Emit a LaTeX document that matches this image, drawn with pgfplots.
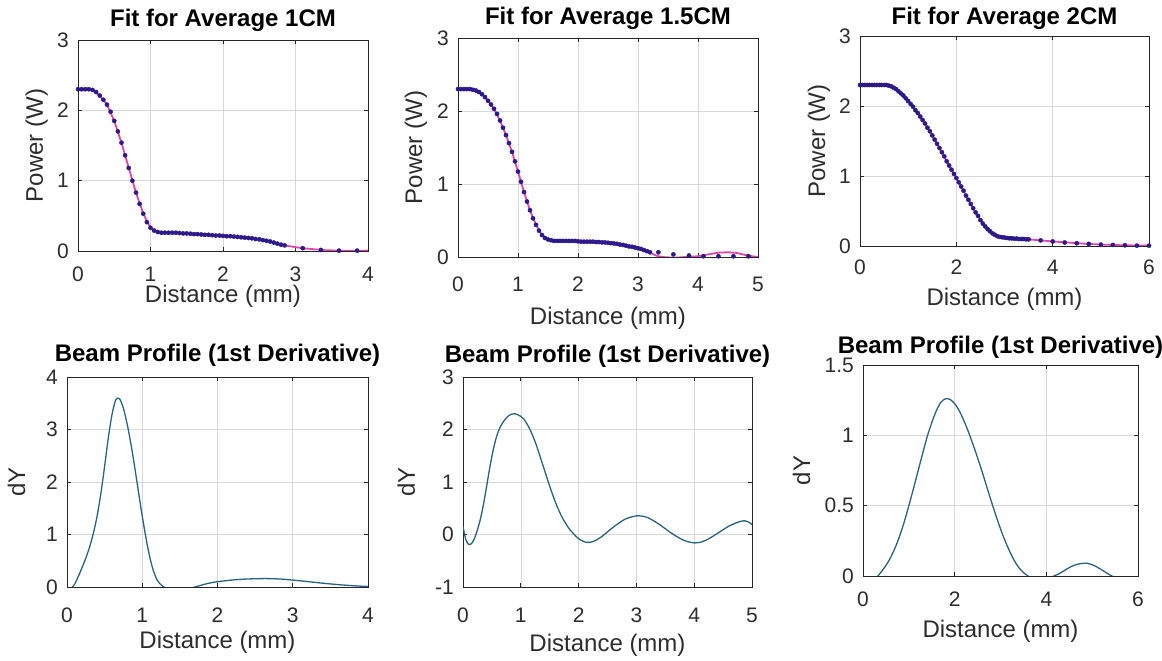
\documentclass[border=0pt]{standalone}
\usepackage{fontspec}
\setmainfont{Liberation Sans}
\usepackage{pgfplots}
\usepackage{pgfplotstable}
\pgfplotsset{compat=1.18}
\definecolor{axcol}{RGB}{38,38,38}
\definecolor{txtcol}{RGB}{45,45,45}
\definecolor{dotcol}{RGB}{45,25,140}
\definecolor{fitcol}{RGB}{225,70,170}
\definecolor{dercol}{RGB}{40,100,128}

% ---------- Panel 1 : Fit for Average 1CM ----------
\pgfplotstableread{
x y
0.00 2.30
0.05 2.30
0.10 2.30
0.15 2.30
0.20 2.29
0.25 2.26
0.30 2.21
0.35 2.15
0.40 2.08
0.45 1.98
0.50 1.85
0.55 1.70
0.60 1.54
0.65 1.36
0.70 1.18
0.75 1.00
0.80 0.83
0.85 0.67
0.90 0.53
0.95 0.41
1.00 0.33
1.05 0.29
1.10 0.27
1.15 0.26
1.20 0.26
1.25 0.26
1.30 0.26
1.35 0.26
1.40 0.255
1.45 0.25
1.50 0.25
1.55 0.245
1.60 0.24
1.65 0.24
1.70 0.235
1.75 0.23
1.80 0.23
1.85 0.225
1.90 0.22
1.95 0.22
2.00 0.215
2.05 0.21
2.10 0.21
2.15 0.205
2.20 0.20
2.25 0.195
2.30 0.19
2.35 0.185
2.40 0.18
2.45 0.17
2.50 0.165
2.55 0.155
2.60 0.145
2.65 0.135
2.70 0.12
2.75 0.105
2.80 0.09
2.85 0.08
3.10 0.04
3.35 0.015
3.60 0.005
3.85 0.005
}\dataA
\pgfplotstableread{
x y
0.00 2.30
0.10 2.30
0.20 2.29
0.30 2.21
0.40 2.08
0.50 1.85
0.60 1.54
0.70 1.18
0.80 0.83
0.90 0.53
1.00 0.33
1.10 0.27
1.20 0.26
1.40 0.255
1.60 0.24
1.80 0.23
2.00 0.215
2.20 0.20
2.40 0.18
2.55 0.155
2.70 0.12
2.85 0.08
3.00 0.055
3.10 0.04
3.25 0.025
3.40 0.012
3.60 0.005
3.80 0.004
4.00 0.005
}\fitA

% ---------- Panel 2 : Fit for Average 1.5CM ----------
\pgfplotstableread{
x y
0.00 2.30
0.05 2.30
0.10 2.30
0.15 2.30
0.20 2.30
0.25 2.29
0.30 2.28
0.35 2.26
0.40 2.23
0.45 2.19
0.50 2.14
0.55 2.09
0.60 2.03
0.65 1.96
0.70 1.87
0.75 1.77
0.80 1.67
0.85 1.56
0.90 1.44
0.95 1.31
1.00 1.17
1.05 1.03
1.10 0.89
1.15 0.76
1.20 0.64
1.25 0.53
1.30 0.44
1.35 0.36
1.40 0.30
1.45 0.26
1.50 0.24
1.55 0.23
1.60 0.22
1.65 0.22
1.70 0.22
1.75 0.22
1.80 0.22
1.85 0.22
1.90 0.22
1.95 0.22
2.00 0.215
2.05 0.21
2.10 0.21
2.15 0.21
2.20 0.21
2.25 0.21
2.30 0.205
2.35 0.205
2.40 0.20
2.45 0.20
2.50 0.195
2.55 0.19
2.60 0.185
2.65 0.18
2.70 0.17
2.75 0.165
2.80 0.155
2.85 0.145
2.90 0.14
2.95 0.13
3.00 0.12
3.05 0.11
3.10 0.095
3.15 0.08
3.20 0.065
3.34 0.064
3.59 0.036
3.85 0.02
4.09 0.01
4.34 0.01
4.59 0.01
4.84 0.01
}\dataB
\pgfplotstableread{
x y
0.00 2.30
0.20 2.30
0.30 2.28
0.40 2.23
0.50 2.14
0.60 2.03
0.70 1.87
0.80 1.67
0.90 1.44
1.00 1.17
1.10 0.89
1.20 0.64
1.30 0.44
1.40 0.30
1.50 0.24
1.60 0.22
1.80 0.22
2.00 0.215
2.20 0.21
2.40 0.20
2.60 0.185
2.80 0.155
3.00 0.12
3.10 0.095
3.20 0.06
3.30 0.02
3.40 0.00
3.60 -0.01
3.80 0.00
4.00 0.01
4.20 0.04
4.35 0.06
4.50 0.065
4.65 0.055
4.80 0.025
4.90 0.01
5.00 0.00
}\fitB

% ---------- Panel 3 : Fit for Average 2CM ----------
\pgfplotstableread{
x y
0.00 2.30
0.05 2.30
0.10 2.30
0.15 2.30
0.20 2.30
0.25 2.30
0.30 2.30
0.35 2.30
0.40 2.30
0.45 2.30
0.50 2.30
0.55 2.30
0.60 2.29
0.65 2.28
0.70 2.26
0.75 2.24
0.80 2.21
0.85 2.18
0.90 2.15
0.95 2.11
1.00 2.07
1.05 2.03
1.10 1.99
1.15 1.94
1.20 1.90
1.25 1.85
1.30 1.80
1.35 1.75
1.40 1.69
1.45 1.64
1.50 1.58
1.55 1.52
1.60 1.46
1.65 1.40
1.70 1.34
1.75 1.28
1.80 1.21
1.85 1.15
1.90 1.09
1.95 1.03
2.00 0.97
2.05 0.91
2.10 0.85
2.15 0.79
2.20 0.72
2.25 0.66
2.30 0.60
2.35 0.54
2.40 0.48
2.45 0.43
2.50 0.37
2.55 0.32
2.60 0.28
2.65 0.24
2.70 0.21
2.75 0.18
2.80 0.16
2.85 0.14
2.90 0.13
2.95 0.125
3.00 0.12
3.05 0.115
3.10 0.11
3.15 0.11
3.20 0.105
3.25 0.105
3.30 0.10
3.35 0.10
3.40 0.10
3.45 0.095
3.50 0.095
3.75 0.08
4.00 0.065
4.25 0.05
4.50 0.04
4.75 0.03
5.00 0.02
5.25 0.015
5.50 0.01
5.75 0.005
6.00 0.005
}\dataC
\pgfplotstableread{
x y
0.00 2.30
0.55 2.30
0.70 2.26
0.80 2.21
1.00 2.07
1.20 1.90
1.40 1.69
1.60 1.46
1.80 1.21
2.00 0.97
2.20 0.72
2.40 0.48
2.55 0.32
2.70 0.21
2.85 0.14
3.00 0.12
3.25 0.105
3.50 0.095
3.75 0.08
4.00 0.065
4.50 0.04
5.00 0.02
5.50 0.01
6.00 0.005
}\fitC

% ---------- Panel 4 : derivative 1CM ----------
\pgfplotstableread{
x y
0.00 -0.10
0.05 -0.03
0.10 0.05
0.15 0.20
0.20 0.37
0.25 0.55
0.30 0.76
0.35 1.02
0.40 1.35
0.45 1.78
0.50 2.30
0.55 2.85
0.60 3.30
0.65 3.57
0.70 3.58
0.75 3.40
0.80 3.10
0.85 2.72
0.90 2.28
0.95 1.81
1.00 1.35
1.05 0.93
1.10 0.57
1.15 0.30
1.20 0.13
1.25 0.04
1.30 -0.01
1.35 -0.04
1.45 -0.06
1.55 -0.05
1.65 -0.02
1.75 0.02
1.85 0.06
1.95 0.09
2.05 0.11
2.25 0.14
2.45 0.155
2.65 0.16
2.85 0.15
3.05 0.125
3.25 0.095
3.45 0.065
3.65 0.04
3.85 0.02
4.00 0.01
}\derA

% ---------- Panel 5 : derivative 1.5CM ----------
\pgfplotstableread{
x y
0.00 0.15
0.05 -0.10
0.10 -0.19
0.15 -0.17
0.20 -0.07
0.25 0.09
0.30 0.29
0.35 0.55
0.40 0.86
0.45 1.19
0.50 1.49
0.55 1.74
0.60 1.93
0.65 2.06
0.70 2.15
0.75 2.22
0.80 2.27
0.85 2.295
0.90 2.30
0.95 2.28
1.00 2.25
1.05 2.20
1.10 2.12
1.15 2.02
1.20 1.90
1.25 1.76
1.30 1.60
1.35 1.43
1.40 1.26
1.45 1.09
1.50 0.92
1.55 0.76
1.60 0.61
1.65 0.48
1.70 0.36
1.75 0.26
1.80 0.17
1.85 0.09
1.90 0.03
1.95 -0.03
2.00 -0.08
2.10 -0.14
2.20 -0.15
2.30 -0.11
2.40 -0.04
2.50 0.05
2.60 0.14
2.70 0.22
2.80 0.29
2.90 0.33
3.00 0.355
3.10 0.35
3.20 0.32
3.30 0.26
3.40 0.19
3.50 0.11
3.60 0.03
3.70 -0.04
3.80 -0.10
3.90 -0.14
4.00 -0.16
4.10 -0.15
4.20 -0.11
4.30 -0.05
4.40 0.02
4.50 0.09
4.60 0.16
4.70 0.21
4.80 0.25
4.88 0.26
4.95 0.23
5.00 0.19
}\derB

% ---------- Panel 6 : derivative 2CM ----------
\pgfplotstableread{
x y
0.00 -0.08
0.10 -0.06
0.20 -0.04
0.30 -0.01
0.40 0.03
0.50 0.075
0.60 0.13
0.70 0.20
0.80 0.285
0.90 0.385
1.00 0.50
1.10 0.62
1.20 0.745
1.30 0.87
1.40 0.99
1.50 1.09
1.60 1.175
1.70 1.235
1.80 1.26
1.90 1.255
2.00 1.225
2.10 1.175
2.20 1.105
2.30 1.025
2.40 0.935
2.50 0.84
2.60 0.74
2.70 0.635
2.80 0.53
2.90 0.43
3.00 0.335
3.10 0.25
3.20 0.175
3.30 0.11
3.40 0.06
3.50 0.025
3.60 0.00
3.70 -0.015
3.80 -0.025
3.90 -0.03
4.00 -0.025
4.10 -0.01
4.20 0.005
4.30 0.02
4.40 0.04
4.50 0.06
4.60 0.075
4.70 0.085
4.80 0.09
4.90 0.09
5.00 0.08
5.10 0.065
5.20 0.045
5.30 0.025
5.40 0.005
5.50 -0.01
5.60 -0.02
5.80 -0.03
}\derC

\pgfplotsset{
  mstyle/.style={
    scale only axis,
    anchor=north west,
    axis line style={line width=0.9pt, color=axcol},
    grid=major,
    grid style={line width=0.6pt, color=black!15},
    tick style={color=axcol, line width=0.7pt},
    major tick length=4pt,
    tick align=inside,
    tick label style={font=\fontsize{21}{25}\selectfont, text=txtcol, inner sep=1pt},
    /pgf/number format/assume math mode=true,
    yticklabel shift=8pt,
    label style={font=\fontsize{24}{28}\selectfont, text=txtcol, inner sep=1pt},
    title style={font=\bfseries\fontsize{24}{28}\selectfont, anchor=base, text=black},
    xlabel style={anchor=base},
    ylabel style={anchor=base},
    clip=true,
  },
  fitstyle/.style={no marks, color=fitcol, line width=1.8pt},
  dotstyle/.style={only marks, mark=*, mark size=2.1pt, color=dotcol},
  derstyle/.style={no marks, color=dercol, line width=1.3pt, smooth},
}

\begin{document}
\begin{tikzpicture}
\useasboundingbox (0,0) rectangle (1162pt,661pt);

% Panel 1
\begin{axis}[mstyle, at={(78pt,621pt)}, width=290pt, height=211pt,
  xmin=0, xmax=4, ymin=0, ymax=3, xtick={0,1,2,3,4}, ytick={0,1,2,3},
  xticklabel shift=15pt,
  title={Fit for Average 1CM}, title style={at={(axis description cs:0.5,1.0332)}},
  xlabel={Distance (mm)}, xlabel style={at={(axis description cs:0.5,-0.2464)}},
  ylabel={Power (W)}, ylabel style={at={(axis description cs:-0.1207,0.5)}}]
\addplot[fitstyle] table[x=x,y=y] {\fitA};
\addplot[dotstyle] table[x=x,y=y] {\dataA};
\end{axis}

% Panel 2
\begin{axis}[mstyle, at={(458pt,623pt)}, width=300pt, height=219pt,
  xmin=0, xmax=5, ymin=0, ymax=3, xtick={0,1,2,3,4,5}, ytick={0,1,2,3},
  xticklabel shift=19pt,
  title={Fit for Average 1.5CM}, title style={at={(axis description cs:0.5,1.032)}},
  xlabel={Distance (mm)}, xlabel style={at={(axis description cs:0.5,-0.3105)}},
  ylabel={Power (W)}, ylabel style={at={(axis description cs:-0.12,0.5)}}]
\addplot[fitstyle] table[x=x,y=y] {\fitB};
\addplot[dotstyle] table[x=x,y=y] {\dataB};
\end{axis}

% Panel 3
\begin{axis}[mstyle, at={(860pt,625pt)}, width=289pt, height=210pt,
  xmin=0, xmax=6, ymin=0, ymax=3, xtick={0,2,4,6}, ytick={0,1,2,3},
  xticklabel shift=13pt,
  title={Fit for Average 2CM}, title style={at={(axis description cs:0.5,1.0238)}},
  xlabel={Distance (mm)}, xlabel style={at={(axis description cs:0.5,-0.281)}},
  ylabel={Power (W)}, ylabel style={at={(axis description cs:-0.1211,0.5)}}]
\addplot[fitstyle] table[x=x,y=y] {\fitC};
\addplot[dotstyle] table[x=x,y=y] {\dataC};
\end{axis}

% Panel 4
\begin{axis}[mstyle, at={(67pt,284pt)}, width=301pt, height=210pt,
  xmin=0, xmax=4, ymin=0, ymax=4, xtick={0,1,2,3,4}, ytick={0,1,2,3,4},
  xticklabel shift=20pt,
  title={Beam Profile (1st Derivative)}, title style={at={(axis description cs:0.5,1.0429)}},
  xlabel={Distance (mm)}, xlabel style={at={(axis description cs:0.5,-0.2905)}},
  ylabel={dY}, ylabel style={at={(axis description cs:-0.1395,0.5)}}]
\addplot[derstyle] table[x=x,y=y] {\derA};
\end{axis}

% Panel 5
\begin{axis}[mstyle, at={(463pt,284pt)}, width=289pt, height=210pt,
  xmin=0, xmax=5, ymin=-1, ymax=3, xtick={0,1,2,3,4,5}, ytick={-1,0,1,2,3},
  xticklabel shift=20pt,
  title={Beam Profile (1st Derivative)}, title style={at={(axis description cs:0.5,1.0381)}},
  xlabel={Distance (mm)}, xlabel style={at={(axis description cs:0.5,-0.3095)}},
  ylabel={dY}, ylabel style={at={(axis description cs:-0.1661,0.5)}}]
\addplot[derstyle] table[x=x,y=y] {\derB};
\end{axis}

% Panel 6
\begin{axis}[mstyle, at={(863pt,296pt)}, width=275pt, height=211pt,
  xmin=0, xmax=6, ymin=0, ymax=1.5, xtick={0,2,4,6}, ytick={0,0.5,1,1.5},
  yticklabel style={/pgf/number format/fixed},
  xticklabel shift=15pt,
  title={Beam Profile (1st Derivative)}, title style={at={(axis description cs:0.5,1.026)}},
  xlabel={Distance (mm)}, xlabel style={at={(axis description cs:0.5,-0.2938)}},
  ylabel={dY}, ylabel style={at={(axis description cs:-0.1927,0.5)}}]
\addplot[derstyle] table[x=x,y=y] {\derC};
\end{axis}
\end{tikzpicture}
\end{document}
